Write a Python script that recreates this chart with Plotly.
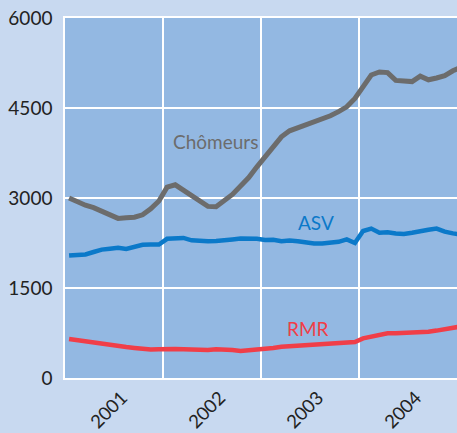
import plotly.graph_objects as go

# monthly values, Jan 2001 .. Jan 2005
months_idx = list(range(49))
chomeurs = [3000, 2930, 2880, 2840, 2780, 2700, 2660, 2670, 2680, 2720, 2820, 2950,
            3180, 3220, 3130, 3040, 2930, 2860, 2855, 2960, 3060, 3200, 3340, 3520,
            3690, 3880, 4020, 4120, 4170, 4210, 4260, 4310, 4370, 4440, 4520, 4660,
            4850, 5050, 5100, 5090, 4960, 4950, 4940, 5030, 4970, 5000, 5040, 5120,
            5180]
asv = [2040, 2050, 2060, 2100, 2140, 2155, 2170, 2150, 2190, 2220, 2225, 2225,
       2320, 2330, 2335, 2295, 2285, 2280, 2285, 2290, 2310, 2325, 2325, 2320,
       2300, 2305, 2280, 2290, 2280, 2260, 2240, 2240, 2255, 2270, 2310, 2250,
       2450, 2490, 2420, 2430, 2410, 2400, 2420, 2450, 2470, 2490, 2440, 2410,
       2390]
rmr = [650, 630, 600, 580, 560, 540, 525, 515, 500, 480, 475, 480,
       490, 485, 480, 475, 470, 465, 480, 480, 465, 450, 460, 470,
       480, 500, 520, 530, 540, 550, 560, 570, 575, 580, 590, 600,
       660, 690, 730, 745, 745, 750, 755, 760, 770, 790, 820, 840,
       860]
year_labels = ["2001", "2002", "2003", "2004"]
y_ticks = [0, 1500, 3000, 4500, 6000]
y_tick_text = ["0", "1500", "3000", "4500", "6000"]

x = [2001 + (i + 0.5) / 12 for i in months_idx]

FONT = "Lato"
GRAY = "#6c6c6c"
BLUE = "#0b79c9"
RED = "#f03e48"

fig = go.Figure()
fig.add_trace(go.Scatter(x=x, y=rmr, mode="lines", line=dict(color=RED, width=4.5), name="RMR"))
fig.add_trace(go.Scatter(x=x, y=asv, mode="lines", line=dict(color=BLUE, width=4.5), name="ASV"))
fig.add_trace(go.Scatter(x=x, y=chomeurs, mode="lines", line=dict(color=GRAY, width=5), name="Chômeurs"))

fig.add_annotation(x=2002.54, y=3950, text="Chômeurs", showarrow=False,
                   font=dict(family=FONT, size=19, color=GRAY))
fig.add_annotation(x=2003.56, y=2590, text="ASV", showarrow=False,
                   font=dict(family=FONT, size=19, color=BLUE))
fig.add_annotation(x=2003.48, y=825, text="RMR", showarrow=False,
                   font=dict(family=FONT, size=19, color=RED))

fig.update_layout(
    width=457, height=433,
    margin=dict(l=65, r=0, t=18, b=55),
    paper_bgcolor="#c8d9f0",
    plot_bgcolor="#93b8e2",
    showlegend=False,
    font=dict(family=FONT, size=19, color="#222222"),
)
fig.update_xaxes(
    range=[2001, 2005],
    tickvals=[2001.5, 2002.5, 2003.5, 2004.5],
    ticktext=year_labels,
    tickangle=-45,
    tickfont=dict(size=18.5),
    showgrid=False,
    zeroline=False,
    showline=True, linecolor="white", linewidth=1.5, mirror=True,
    ticks="", ticklabelstandoff=0, ticklabelshift=8,
    automargin=False,
    minor=dict(tickvals=[2002, 2003, 2004], showgrid=True, gridcolor="white", gridwidth=1.5),
    fixedrange=True,
)
fig.update_yaxes(
    range=[0, 6000],
    tickvals=y_ticks,
    ticktext=y_tick_text,
    showgrid=True, gridcolor="white", gridwidth=1.5,
    zeroline=False,
    showline=True, linecolor="white", linewidth=1.5,
    ticks="", ticklabelstandoff=7,
    automargin=False,
    fixedrange=True,
)

fig.write_html("out.html", config={"displayModeBar": False},
               post_script="document.body.style.margin='0';document.body.style.overflow='hidden';")
